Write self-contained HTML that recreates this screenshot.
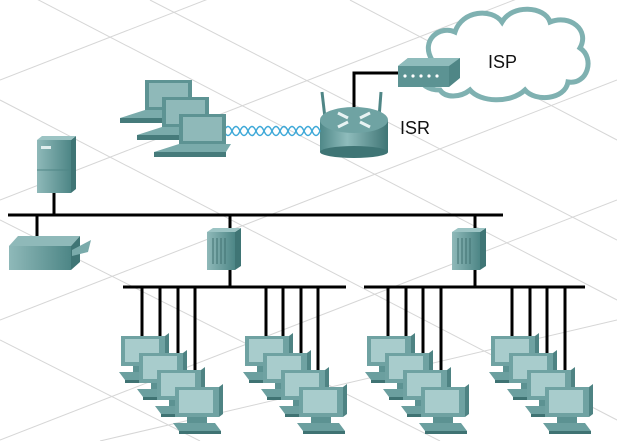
<!DOCTYPE html>
<html><head><meta charset="utf-8"><style>
html,body{margin:0;padding:0;background:#fff;}
svg{display:block;}
text{font-family:"Liberation Sans",sans-serif;fill:#111;}
</style></head><body>
<svg width="617" height="441" viewBox="0 0 617 441" xmlns="http://www.w3.org/2000/svg">
<defs>
<linearGradient id="tl" x1="0" y1="0" x2="1" y2="0"><stop offset="0" stop-color="#8fb9b9"/><stop offset="1" stop-color="#4d8686"/></linearGradient>
<linearGradient id="cyl" x1="0" y1="0" x2="1" y2="0"><stop offset="0" stop-color="#4f8888"/><stop offset="0.4" stop-color="#8fbcbc"/><stop offset="1" stop-color="#3f7575"/></linearGradient>
<g id="pc">
  <rect x="0" y="0" width="44" height="30" fill="#6fa2a2"/>
  <rect x="4" y="3" width="34" height="23" fill="#a8cccc"/>
  <polygon points="44,0 48,-3 48,27 44,30" fill="#4e8383"/>
  <rect x="12" y="30" width="20" height="6" fill="#5c9292"/>
  <polygon points="-2,36 40,36 46,44 4,44" fill="#6b9f9f"/>
  <rect x="4" y="44" width="42" height="3" fill="#3f7373"/>
</g>
<g id="lap">
  <polygon points="25,0 72,0 72,30 25,30" fill="#5d9393"/>
  <rect x="29" y="3" width="39" height="24" fill="#8fb9b9"/>
  <polygon points="0,38 72,38 77,30 25,30" fill="#7aabab"/>
  <rect x="0" y="38" width="72" height="5" fill="#467b7b"/>
</g>
</defs>
<!-- grid -->
<g stroke="#d6d6d6" stroke-width="1" fill="none">
<line x1="0" y1="80" x2="617" y2="-160"/><line x1="0" y1="200" x2="617" y2="-40"/>
<line x1="0" y1="320" x2="617" y2="80"/><line x1="0" y1="440" x2="617" y2="200"/>
<line x1="100" y1="441" x2="617" y2="320"/>
<line x1="0" y1="-20" x2="617" y2="300"/><line x1="0" y1="100" x2="617" y2="420"/>
<line x1="0" y1="220" x2="440" y2="441"/><line x1="150" y1="0" x2="617" y2="240"/>
<line x1="350" y1="0" x2="617" y2="140"/><line x1="0" y1="340" x2="200" y2="441"/>
</g>
<!-- cloud -->
<path d="M440,90 C415,90 412,65 432,60 C420,40 440,25 455,32 C462,10 492,8 502,22 C512,4 545,6 550,22 C570,14 590,30 580,48 C595,58 588,85 568,82 C565,100 535,102 525,90 C510,104 480,102 470,90 C460,98 445,98 440,90 Z" fill="#fff" stroke="#7fb1b1" stroke-width="5"/>
<text x="488" y="68" font-size="18">ISP</text>
<!-- wires -->
<g stroke="#000" stroke-width="3" fill="none">
<polyline points="354,155 354,73 398,73"/>
<line x1="8" y1="215" x2="503" y2="215"/>
<line x1="54" y1="193" x2="54" y2="215"/>
<line x1="37" y1="215" x2="37" y2="236"/>
<line x1="230" y1="215" x2="230" y2="287"/>
<line x1="475" y1="215" x2="475" y2="287"/>
<line x1="123" y1="287" x2="346" y2="287"/>
<line x1="364" y1="287" x2="585" y2="287"/>
</g>
<!-- modem -->
<polygon points="398,66 408,58 460,58 460,78 449,87 398,87" fill="#4f8686"/>
<polygon points="398,66 408,58 460,58 449,66" fill="#8fbcbc"/>
<rect x="398" y="66" width="51" height="21" fill="#5c9393"/>
<g fill="#fff"><circle cx="405" cy="76" r="1.6"/><circle cx="413" cy="76" r="1.6"/><circle cx="421" cy="76" r="1.6"/><circle cx="429" cy="76" r="1.6"/><circle cx="437" cy="76" r="1.6"/></g>
<!-- router -->
<line x1="322" y1="92" x2="325" y2="118" stroke="#4f8686" stroke-width="3"/>
<line x1="381" y1="92" x2="379" y2="118" stroke="#4f8686" stroke-width="3"/>
<rect x="320" y="120" width="68" height="32" fill="url(#cyl)"/>
<ellipse cx="354" cy="152" rx="34" ry="6" fill="#3f7575"/>
<ellipse cx="354" cy="120" rx="34" ry="13" fill="#6fa3a3"/>
<g stroke="#e8f3f3" stroke-width="3"><line x1="338" y1="113" x2="348" y2="118"/><line x1="360" y1="122" x2="370" y2="127"/><line x1="338" y1="127" x2="348" y2="122"/><line x1="360" y1="118" x2="370" y2="113"/></g>
<text x="400" y="134" font-size="18">ISR</text>
<!-- waves -->
<path d="M224,131 q4,-9 8,0 t8,0 t8,0 t8,0 t8,0 t8,0 t8,0 t8,0 t8,0 t8,0 t8,0 t8,0" stroke="#3fa9d8" stroke-width="1.5" fill="none"/>
<path d="M224,131 q4,9 8,0 t8,0 t8,0 t8,0 t8,0 t8,0 t8,0 t8,0 t8,0 t8,0 t8,0 t8,0" stroke="#3fa9d8" stroke-width="1.5" fill="none"/>
<!-- laptops -->
<use href="#lap" x="120" y="80"/>
<use href="#lap" x="137" y="97"/>
<use href="#lap" x="154" y="114"/>
<!-- server -->
<rect x="37" y="140" width="34" height="53" fill="url(#tl)"/>
<polygon points="71,140 76,136 76,189 71,193" fill="#3f7575"/>
<polygon points="37,140 42,136 76,136 71,140" fill="#9cc4c4"/>
<rect x="41" y="146" width="10" height="3" fill="#e0eeee"/>
<line x1="37" y1="170" x2="71" y2="170" stroke="#4f8686"/>
<!-- printer -->
<rect x="9" y="246" width="62" height="24" fill="url(#tl)"/>
<polygon points="9,246 18,236 80,236 71,246" fill="#8fb9b9"/>
<polygon points="71,246 80,236 80,262 71,270" fill="#3f7575"/>
<polygon points="72,250 91,240 88,252 72,256" fill="#7aabab"/>
<!-- switches -->
<g id="sw">
<rect x="207" y="232" width="28" height="38" fill="url(#tl)"/>
<polygon points="235,232 241,228 241,266 235,270" fill="#3f7575"/>
<polygon points="207,232 213,228 241,228 235,232" fill="#9cc4c4"/>
<g stroke="#3f7070"><line x1="213" y1="238" x2="213" y2="264"/><line x1="217" y1="238" x2="217" y2="264"/><line x1="221" y1="238" x2="221" y2="264"/><line x1="225" y1="238" x2="225" y2="264"/></g>
</g>
<use href="#sw" x="245" y="0"/>
<!-- drops -->
<g stroke="#000" stroke-width="3">
<line x1="142" y1="287" x2="142" y2="336"/><line x1="160" y1="287" x2="160" y2="353"/><line x1="178" y1="287" x2="178" y2="370"/><line x1="195" y1="287" x2="195" y2="387"/>
<line x1="266" y1="287" x2="266" y2="336"/><line x1="283" y1="287" x2="283" y2="353"/><line x1="301" y1="287" x2="301" y2="370"/><line x1="318" y1="287" x2="318" y2="387"/>
<line x1="388" y1="287" x2="388" y2="336"/><line x1="406" y1="287" x2="406" y2="353"/><line x1="423" y1="287" x2="423" y2="370"/><line x1="441" y1="287" x2="441" y2="387"/>
<line x1="512" y1="287" x2="512" y2="336"/><line x1="530" y1="287" x2="530" y2="353"/><line x1="547" y1="287" x2="547" y2="370"/><line x1="565" y1="287" x2="565" y2="387"/>
</g>
<!-- PCs -->
<g id="grp">
<use href="#pc" x="121" y="336"/>
<use href="#pc" x="139" y="353"/>
<use href="#pc" x="157" y="370"/>
<use href="#pc" x="175" y="387"/>
</g>
<use href="#grp" x="124" y="0"/>
<use href="#grp" x="246" y="0"/>
<use href="#grp" x="370" y="0"/>
</svg>
</body></html>
